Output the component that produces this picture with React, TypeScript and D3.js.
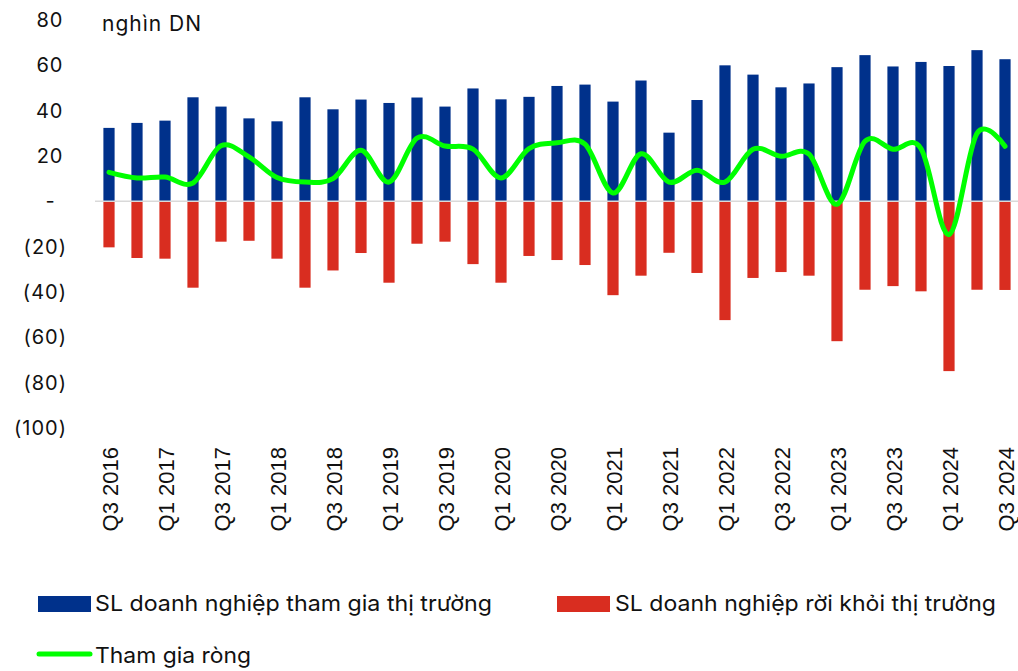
import React from 'react';
import * as d3 from 'd3';

const quarters = [
  'Q3 2016', 'Q4 2016',
  'Q1 2017', 'Q2 2017', 'Q3 2017', 'Q4 2017',
  'Q1 2018', 'Q2 2018', 'Q3 2018', 'Q4 2018',
  'Q1 2019', 'Q2 2019', 'Q3 2019', 'Q4 2019',
  'Q1 2020', 'Q2 2020', 'Q3 2020', 'Q4 2020',
  'Q1 2021', 'Q2 2021', 'Q3 2021', 'Q4 2021',
  'Q1 2022', 'Q2 2022', 'Q3 2022', 'Q4 2022',
  'Q1 2023', 'Q2 2023', 'Q3 2023', 'Q4 2023',
  'Q1 2024', 'Q2 2024', 'Q3 2024',
];

// nghìn doanh nghiệp
const entered = [
  32.4, 34.6, 35.6, 45.9, 41.8, 36.6, 35.3, 45.9, 40.6, 44.9, 43.4,
  45.8, 41.8, 49.8, 45.0, 46.1, 50.9, 51.5, 44.0, 53.3, 30.3, 44.7,
  60.0, 55.9, 50.3, 52.0, 59.2, 64.5, 59.5, 61.5, 59.7, 66.7, 62.7,
];
const exited = [
  -20.3, -25.0, -25.3, -38.1, -17.8, -17.4, -25.3, -38.1, -30.5, -22.8, -35.9,
  -18.7, -17.8, -27.7, -35.9, -24.1, -25.9, -28.1, -41.4, -32.8, -22.7, -31.6,
  -52.4, -33.8, -31.2, -32.8, -61.7, -39.0, -37.4, -39.7, -74.9, -39.0, -39.1,
];
const net = [
  12.8, 10.3, 10.7, 8.1, 24.5, 19.6, 10.5, 8.5, 10.0, 22.5, 8.5,
  27.9, 24.4, 23.0, 10.3, 23.3, 25.8, 25.2, 3.7, 21.0, 8.5, 13.7,
  8.5, 23.0, 19.9, 20.8, -1.3, 26.5, 23.0, 23.3, -14.7, 30.0, 24.3,
];

const yTicks = [80, 60, 40, 20, 0, -20, -40, -60, -80, -100];

const BLUE = '#00318b';
const RED = '#d92d20';
const GREEN = '#00ff00';
const FONT = 'Inter, "Noto Sans", sans-serif';

const fmt = (v: number) => (v === 0 ? '-' : v < 0 ? `(${-v})` : `${v}`);

export default function App() {
  const x = d3.scaleBand<string>()
    .domain(quarters)
    .range([95, 1019])
    .paddingInner(0.6)
    .paddingOuter(0.3);
  const y = d3.scaleLinear().domain([-100, 80]).range([428, 20]);
  const cx = (q: string) => (x(q) as number) + x.bandwidth() / 2;

  const netLine = d3.line<number>()
    .x((_, i) => cx(quarters[i]))
    .y(d => y(d))
    .curve(d3.curveCatmullRom.alpha(0));

  return (
    <svg width={1018} height={671}
      style={{ position: 'absolute', left: 0, top: 0, background: '#fff' }}>
      {/* y axis labels */}
      {yTicks.map(t => (
        <text key={t}
          x={t === 0 ? 50 : t < 0 ? 67 : 63.5}
          y={y(t)}
          dy="0.35em"
          textAnchor={t === 0 ? 'middle' : 'end'}
          letterSpacing={t === 0 ? 0 : 1}
          fontFamily={FONT} fontSize={20} fill="#111">
          {fmt(t)}
        </text>
      ))}
      <text x={102} y={31} fontFamily={FONT} fontSize={21} letterSpacing={1} fill="#111">nghìn DN</text>

      {/* bars */}
      {quarters.map((q, i) => (
        <g key={q}>
          <rect x={x(q)} y={y(entered[i])} width={x.bandwidth()}
            height={y(0) - y(entered[i])} fill={BLUE} />
          <rect x={x(q)} y={y(0)} width={x.bandwidth()}
            height={y(exited[i]) - y(0)} fill={RED} />
        </g>
      ))}

      <line x1={95} x2={1018} y1={y(0)} y2={y(0)} stroke="#d9d9d9" strokeWidth={1.5} />

      <path d={netLine(net) || ''} fill="none" stroke={GREEN} strokeWidth={5}
        strokeLinecap="round" strokeLinejoin="round" />

      {/* x axis labels */}
      {quarters.filter((_, i) => i % 2 === 0).map(q => (
        <text key={q}
          transform={`translate(${cx(q) + 1},447) rotate(-90)`}
          dy="0.35em"
          textAnchor="end"
          fontFamily='"Liberation Sans", Arial, sans-serif' fontSize={22} fill="#111">
          {q}
        </text>
      ))}

      {/* legend */}
      <rect x={38} y={596} width={53} height={16} fill={BLUE} />
      <text x={95} y={611} fontFamily={FONT} fontSize={22} fill="#111"
        textLength={397} lengthAdjust="spacingAndGlyphs">SL doanh nghiệp tham gia thị trường</text>
      <rect x={557} y={596} width={53} height={16} fill={RED} />
      <text x={615} y={611} fontFamily={FONT} fontSize={22} fill="#111"
        textLength={381} lengthAdjust="spacingAndGlyphs">SL doanh nghiệp rời khỏi thị trường</text>
      <line x1={39} x2={90} y1={654} y2={654} stroke={GREEN} strokeWidth={5} strokeLinecap="round" />
      <text x={95} y={663} fontFamily={FONT} fontSize={22} fill="#111"
        textLength={156} lengthAdjust="spacingAndGlyphs">Tham gia ròng</text>
    </svg>
  );
}
